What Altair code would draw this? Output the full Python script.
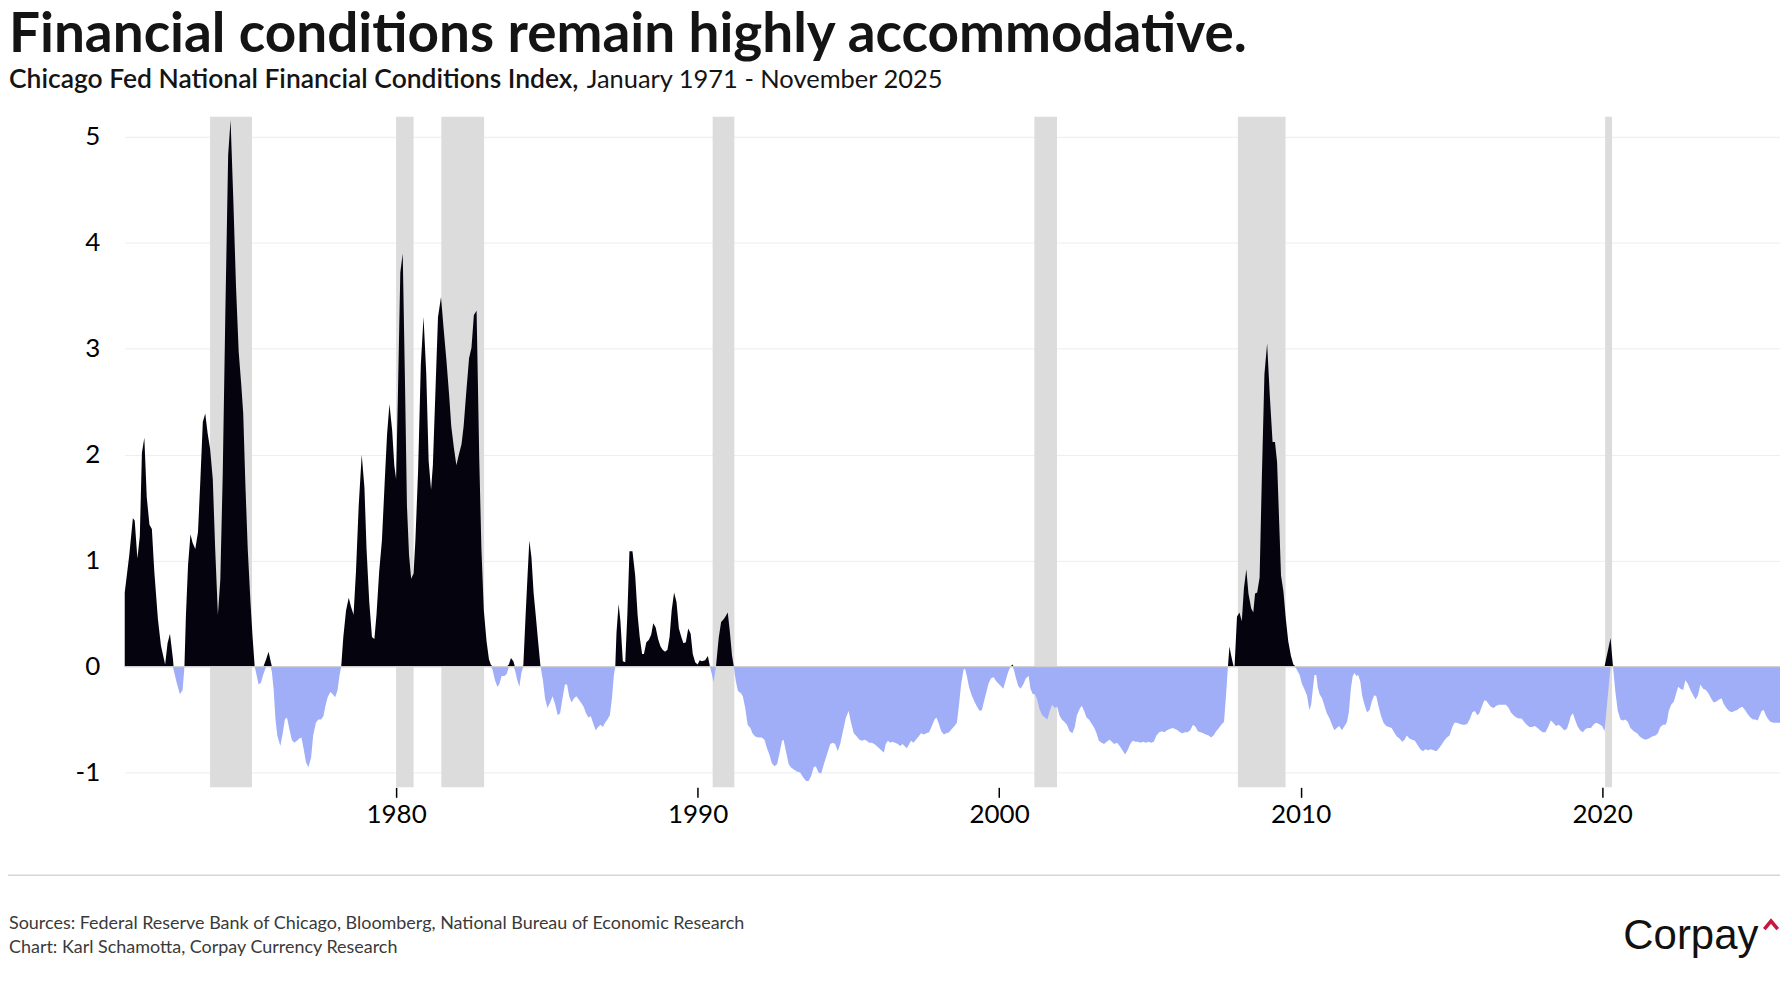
import altair as alt
import pandas as pd

TITLE = "Financial conditions remain highly accommodative."
SUB_BOLD = "Chicago Fed National Financial Conditions Index,"
SUB_REG = "January 1971 - November 2025"
SOURCE = "Sources: Federal Reserve Bank of Chicago, Bloomberg, National Bureau of Economic Research"
CREDIT = "Chart: Karl Schamotta, Corpay Currency Research"
BRAND = "Corpay"

# NBER recessions (decimal years)
recession_start = [1973.83, 1980.00, 1981.50, 1990.50, 2001.17, 2007.92, 2020.10]
recession_end = [1975.22, 1980.58, 1982.92, 1991.22, 2001.92, 2009.50, 2020.33]

x_ticks = [1980, 1990, 2000, 2010, 2020]
y_ticks = [-1, 0, 1, 2, 3, 4, 5]

# NFCI readings (decimal year, index value)
nfci_1970s = [
    (1971.00, 0.70), (1971.15, 1.05), (1971.27, 1.40), (1971.33, 1.38), (1971.42, 1.02),
    (1971.50, 1.23), (1971.57, 2.02), (1971.65, 2.16), (1971.73, 1.60), (1971.82, 1.34),
    (1971.90, 1.30), (1971.98, 0.90), (1972.10, 0.45), (1972.20, 0.20), (1972.34, 0.02),
    (1972.42, 0.22), (1972.50, 0.31), (1972.60, 0.07), (1972.62, -0.03), (1972.72, -0.15),
    (1972.83, -0.26), (1972.92, -0.22), (1972.98, 0.00), (1973.03, 0.49), (1973.10, 0.96),
    (1973.18, 1.25), (1973.25, 1.17), (1973.34, 1.11), (1973.43, 1.27), (1973.51, 1.77),
    (1973.59, 2.31), (1973.67, 2.39), (1973.75, 2.20), (1973.83, 2.06), (1973.92, 1.77),
    (1974.00, 1.11), (1974.09, 0.49), (1974.17, 0.82), (1974.25, 1.81), (1974.34, 3.39),
    (1974.43, 4.83), (1974.51, 5.16), (1974.60, 4.42), (1974.69, 3.59), (1974.78, 2.97),
    (1974.86, 2.68), (1974.93, 2.39), (1975.00, 1.73), (1975.08, 1.11), (1975.17, 0.61),
    (1975.24, 0.28), (1975.31, 0.00), (1975.38, -0.09), (1975.44, -0.17), (1975.52, -0.15),
    (1975.60, -0.07), (1975.69, 0.07), (1975.77, 0.14), (1975.84, 0.05), (1975.88, -0.05),
    (1975.94, -0.22), (1976.00, -0.50), (1976.06, -0.65), (1976.16, -0.75), (1976.24, -0.63),
    (1976.31, -0.50), (1976.38, -0.48), (1976.46, -0.59), (1976.54, -0.69), (1976.62, -0.72),
    (1976.71, -0.70), (1976.79, -0.68), (1976.86, -0.67), (1976.93, -0.77), (1977.01, -0.90),
    (1977.09, -0.95), (1977.18, -0.86), (1977.25, -0.65), (1977.34, -0.53), (1977.42, -0.50),
    (1977.51, -0.50), (1977.59, -0.47), (1977.65, -0.38), (1977.73, -0.29), (1977.82, -0.24),
    (1977.90, -0.26), (1977.98, -0.29), (1978.06, -0.22), (1978.12, -0.09), (1978.18, 0.00),
    (1978.25, 0.28), (1978.34, 0.53), (1978.43, 0.65), (1978.50, 0.57), (1978.59, 0.49),
    (1978.67, 0.90), (1978.76, 1.52), (1978.86, 2.00), (1978.95, 1.69), (1979.02, 1.11),
    (1979.11, 0.61), (1979.20, 0.28), (1979.28, 0.26), (1979.35, 0.49), (1979.44, 0.90),
    (1979.53, 1.19), (1979.62, 1.73), (1979.70, 2.19), (1979.78, 2.48), (1979.87, 2.23),
    (1979.94, 1.90),
]

nfci_1980s = [
    (1980.00, 1.77), (1980.06, 2.56), (1980.14, 3.72), (1980.22, 3.90), (1980.29, 2.77),
    (1980.36, 1.52), (1980.43, 1.05), (1980.50, 0.83), (1980.58, 0.88), (1980.64, 1.19),
    (1980.73, 1.85), (1980.82, 2.85), (1980.91, 3.30), (1981.00, 2.77), (1981.08, 1.94),
    (1981.16, 1.67), (1981.22, 1.90), (1981.30, 2.56), (1981.39, 3.30), (1981.49, 3.49),
    (1981.58, 3.18), (1981.67, 2.89), (1981.76, 2.56), (1981.83, 2.27), (1981.92, 2.06),
    (1982.00, 1.90), (1982.08, 2.00), (1982.17, 2.10), (1982.24, 2.27), (1982.33, 2.60),
    (1982.42, 2.91), (1982.50, 3.01), (1982.58, 3.32), (1982.67, 3.36), (1982.76, 1.94),
    (1982.83, 1.11), (1982.91, 0.53), (1983.00, 0.24), (1983.08, 0.07), (1983.14, 0.02),
    (1983.20, -0.03), (1983.28, -0.13), (1983.36, -0.19), (1983.42, -0.17), (1983.50, -0.09),
    (1983.59, -0.09), (1983.67, -0.07), (1983.74, 0.02), (1983.81, 0.08), (1983.89, 0.05),
    (1983.94, -0.03), (1984.02, -0.13), (1984.09, -0.19), (1984.16, -0.05), (1984.22, 0.01),
    (1984.29, 0.45), (1984.36, 0.86), (1984.42, 1.19), (1984.49, 1.03), (1984.56, 0.70),
    (1984.63, 0.49), (1984.71, 0.24), (1984.79, 0.00), (1984.87, -0.13), (1984.94, -0.30),
    (1985.02, -0.39), (1985.11, -0.34), (1985.19, -0.28), (1985.28, -0.36), (1985.36, -0.46),
    (1985.44, -0.44), (1985.52, -0.30), (1985.60, -0.17), (1985.67, -0.17), (1985.74, -0.28),
    (1985.82, -0.34), (1985.90, -0.30), (1985.98, -0.28), (1986.06, -0.31), (1986.13, -0.34),
    (1986.22, -0.38), (1986.30, -0.44), (1986.38, -0.48), (1986.46, -0.47), (1986.53, -0.53),
    (1986.62, -0.60), (1986.70, -0.57), (1986.78, -0.55), (1986.86, -0.57), (1986.93, -0.53),
    (1987.01, -0.50), (1987.09, -0.46), (1987.16, -0.30), (1987.22, -0.09), (1987.27, 0.00),
    (1987.31, 0.32), (1987.38, 0.59), (1987.44, 0.43), (1987.52, 0.05), (1987.60, 0.04),
    (1987.67, 0.49), (1987.74, 1.09), (1987.84, 1.09), (1987.93, 0.86), (1988.01, 0.49),
    (1988.08, 0.28), (1988.16, 0.12), (1988.22, 0.12), (1988.30, 0.23), (1988.38, 0.25),
    (1988.46, 0.30), (1988.53, 0.41), (1988.61, 0.37), (1988.69, 0.26), (1988.77, 0.19),
    (1988.84, 0.16), (1988.92, 0.14), (1989.00, 0.16), (1989.07, 0.28), (1989.14, 0.53),
    (1989.22, 0.70), (1989.30, 0.61), (1989.38, 0.36), (1989.46, 0.28), (1989.53, 0.22),
    (1989.61, 0.23), (1989.69, 0.36), (1989.77, 0.31), (1989.84, 0.12), (1989.92, 0.04),
]

nfci_1990s = [
    (1990.00, 0.02), (1990.07, 0.06), (1990.14, 0.05), (1990.25, 0.06), (1990.34, 0.10),
    (1990.41, 0.00), (1990.48, -0.08), (1990.53, -0.15), (1990.61, 0.00), (1990.70, 0.27),
    (1990.78, 0.42), (1990.87, 0.45), (1990.94, 0.48), (1991.00, 0.51), (1991.07, 0.33),
    (1991.14, 0.11), (1991.20, 0.00), (1991.27, -0.14), (1991.34, -0.23), (1991.43, -0.25),
    (1991.50, -0.28), (1991.58, -0.39), (1991.66, -0.55), (1991.75, -0.58), (1991.82, -0.63),
    (1991.91, -0.66), (1992.02, -0.67), (1992.13, -0.67), (1992.22, -0.69), (1992.30, -0.77),
    (1992.38, -0.83), (1992.46, -0.91), (1992.55, -0.94), (1992.64, -0.92), (1992.72, -0.81),
    (1992.80, -0.70), (1992.85, -0.69), (1992.93, -0.80), (1993.02, -0.92), (1993.09, -0.95),
    (1993.18, -0.97), (1993.29, -0.99), (1993.40, -1.00), (1993.51, -1.05), (1993.60, -1.08),
    (1993.68, -1.08), (1993.77, -1.03), (1993.85, -0.95), (1993.92, -0.94), (1994.01, -1.00),
    (1994.10, -1.01), (1994.19, -0.92), (1994.29, -0.83), (1994.40, -0.73), (1994.49, -0.72),
    (1994.56, -0.73), (1994.65, -0.80), (1994.73, -0.73), (1994.82, -0.61), (1994.92, -0.48),
    (1995.01, -0.42), (1995.09, -0.53), (1995.18, -0.63), (1995.28, -0.66), (1995.37, -0.69),
    (1995.45, -0.70), (1995.54, -0.69), (1995.61, -0.70), (1995.69, -0.72), (1995.78, -0.72),
    (1995.86, -0.73), (1995.94, -0.75), (1996.02, -0.77), (1996.09, -0.79), (1996.18, -0.81),
    (1996.24, -0.73), (1996.31, -0.70), (1996.39, -0.72), (1996.46, -0.71), (1996.55, -0.72),
    (1996.64, -0.73), (1996.72, -0.75), (1996.80, -0.73), (1996.86, -0.75), (1996.94, -0.77),
    (1997.02, -0.73), (1997.08, -0.70), (1997.16, -0.72), (1997.24, -0.69), (1997.33, -0.66),
    (1997.41, -0.63), (1997.50, -0.64), (1997.59, -0.63), (1997.68, -0.62), (1997.77, -0.56),
    (1997.86, -0.50), (1997.92, -0.48), (1997.99, -0.53), (1998.08, -0.61), (1998.17, -0.64),
    (1998.25, -0.63), (1998.34, -0.62), (1998.43, -0.59), (1998.52, -0.56), (1998.60, -0.53),
    (1998.67, -0.36), (1998.74, -0.17), (1998.82, -0.03), (1998.87, -0.02), (1998.93, -0.09),
    (1999.00, -0.19), (1999.09, -0.27), (1999.18, -0.33), (1999.27, -0.38), (1999.36, -0.42),
    (1999.43, -0.41), (1999.49, -0.34), (1999.57, -0.25), (1999.65, -0.16), (1999.73, -0.11),
    (1999.82, -0.10), (1999.91, -0.14),
]

nfci_2000s = [
    (2000.05, -0.18), (2000.14, -0.21), (2000.22, -0.13), (2000.30, -0.05), (2000.38, 0.00),
    (2000.44, 0.02), (2000.49, -0.03), (2000.56, -0.11), (2000.63, -0.18), (2000.71, -0.21),
    (2000.80, -0.17), (2000.89, -0.11), (2000.98, -0.09), (2001.04, -0.21), (2001.12, -0.26),
    (2001.19, -0.26), (2001.26, -0.31), (2001.34, -0.40), (2001.43, -0.46), (2001.52, -0.48),
    (2001.60, -0.50), (2001.68, -0.42), (2001.76, -0.36), (2001.84, -0.39), (2001.93, -0.38),
    (2002.00, -0.46), (2002.08, -0.50), (2002.16, -0.52), (2002.25, -0.55), (2002.34, -0.61),
    (2002.43, -0.63), (2002.51, -0.57), (2002.58, -0.46), (2002.67, -0.40), (2002.74, -0.37),
    (2002.82, -0.42), (2002.90, -0.48), (2002.98, -0.50), (2003.07, -0.54), (2003.16, -0.58),
    (2003.23, -0.63), (2003.31, -0.70), (2003.40, -0.72), (2003.48, -0.73), (2003.57, -0.71),
    (2003.66, -0.69), (2003.74, -0.71), (2003.82, -0.73), (2003.91, -0.72), (2004.00, -0.75),
    (2004.09, -0.79), (2004.18, -0.83), (2004.26, -0.79), (2004.35, -0.73), (2004.43, -0.70),
    (2004.52, -0.71), (2004.60, -0.71), (2004.69, -0.72), (2004.78, -0.71), (2004.87, -0.72),
    (2004.96, -0.71), (2005.04, -0.72), (2005.13, -0.71), (2005.22, -0.65), (2005.31, -0.62),
    (2005.40, -0.61), (2005.48, -0.62), (2005.57, -0.60), (2005.66, -0.59), (2005.75, -0.58),
    (2005.84, -0.59), (2005.92, -0.60), (2006.00, -0.62), (2006.08, -0.63), (2006.16, -0.62),
    (2006.25, -0.62), (2006.34, -0.60), (2006.43, -0.55), (2006.52, -0.57), (2006.59, -0.61),
    (2006.68, -0.62), (2006.77, -0.63), (2006.86, -0.64), (2006.95, -0.65), (2007.03, -0.67),
    (2007.11, -0.65), (2007.20, -0.61), (2007.29, -0.58), (2007.37, -0.55), (2007.46, -0.52),
    (2007.53, -0.26), (2007.59, 0.00), (2007.64, 0.19), (2007.70, 0.10), (2007.77, 0.01),
    (2007.81, 0.00), (2007.89, 0.47), (2007.97, 0.51), (2008.05, 0.43), (2008.12, 0.74),
    (2008.20, 0.92), (2008.27, 0.69), (2008.36, 0.55), (2008.43, 0.51), (2008.49, 0.69),
    (2008.56, 0.70), (2008.64, 0.84), (2008.71, 1.73), (2008.80, 2.76), (2008.89, 3.05),
    (2008.98, 2.55), (2009.07, 2.12), (2009.15, 2.12), (2009.22, 1.93), (2009.29, 1.36),
    (2009.35, 0.86), (2009.43, 0.71), (2009.51, 0.45), (2009.59, 0.24), (2009.68, 0.10),
    (2009.76, 0.02), (2009.84, -0.01),
]

nfci_2010s = [
    (2009.97, -0.08), (2010.04, -0.16), (2010.12, -0.21), (2010.21, -0.27), (2010.29, -0.41),
    (2010.35, -0.36), (2010.41, -0.20), (2010.46, -0.08), (2010.52, -0.08), (2010.57, -0.20),
    (2010.63, -0.26), (2010.71, -0.30), (2010.78, -0.36), (2010.87, -0.44), (2010.96, -0.49),
    (2011.04, -0.55), (2011.12, -0.60), (2011.20, -0.58), (2011.28, -0.56), (2011.37, -0.60),
    (2011.46, -0.56), (2011.54, -0.52), (2011.60, -0.43), (2011.67, -0.20), (2011.73, -0.09),
    (2011.79, -0.06), (2011.85, -0.09), (2011.91, -0.08), (2011.98, -0.14), (2012.04, -0.27),
    (2012.11, -0.35), (2012.20, -0.43), (2012.29, -0.41), (2012.36, -0.33), (2012.44, -0.27),
    (2012.51, -0.28), (2012.59, -0.38), (2012.66, -0.46), (2012.75, -0.53), (2012.84, -0.56),
    (2012.93, -0.57), (2013.02, -0.58), (2013.10, -0.62), (2013.19, -0.66), (2013.28, -0.68),
    (2013.37, -0.71), (2013.45, -0.69), (2013.52, -0.65), (2013.61, -0.68), (2013.70, -0.69),
    (2013.79, -0.70), (2013.88, -0.74), (2013.97, -0.78), (2014.06, -0.80), (2014.14, -0.78),
    (2014.23, -0.79), (2014.32, -0.78), (2014.41, -0.79), (2014.50, -0.80), (2014.59, -0.77),
    (2014.67, -0.74), (2014.76, -0.70), (2014.85, -0.67), (2014.94, -0.65), (2015.02, -0.58),
    (2015.10, -0.53), (2015.18, -0.53), (2015.27, -0.54), (2015.36, -0.55), (2015.45, -0.55),
    (2015.53, -0.54), (2015.62, -0.49), (2015.70, -0.43), (2015.78, -0.42), (2015.86, -0.46),
    (2015.93, -0.44), (2016.01, -0.38), (2016.09, -0.32), (2016.15, -0.32), (2016.23, -0.35),
    (2016.31, -0.38), (2016.40, -0.39), (2016.49, -0.37), (2016.57, -0.36), (2016.66, -0.36),
    (2016.75, -0.36), (2016.81, -0.36), (2016.90, -0.39), (2016.97, -0.43), (2017.06, -0.46),
    (2017.15, -0.48), (2017.24, -0.49), (2017.33, -0.49), (2017.41, -0.52), (2017.50, -0.55),
    (2017.59, -0.57), (2017.68, -0.57), (2017.77, -0.56), (2017.86, -0.58), (2017.94, -0.60),
    (2018.03, -0.62), (2018.12, -0.62), (2018.21, -0.57), (2018.30, -0.51), (2018.38, -0.53),
    (2018.47, -0.56), (2018.56, -0.55), (2018.65, -0.57), (2018.74, -0.60), (2018.83, -0.59),
    (2018.90, -0.53), (2018.96, -0.47), (2019.03, -0.44), (2019.10, -0.50), (2019.18, -0.56),
    (2019.27, -0.60), (2019.36, -0.62), (2019.45, -0.59), (2019.54, -0.58), (2019.63, -0.58),
    (2019.71, -0.55), (2019.80, -0.53), (2019.88, -0.54),
]

nfci_2020s = [
    (2020.00, -0.56), (2020.08, -0.61), (2020.28, 0.27), (2020.36, 0.00), (2020.44, -0.24),
    (2020.52, -0.42), (2020.61, -0.50), (2020.70, -0.51), (2020.77, -0.50), (2020.85, -0.52),
    (2020.94, -0.58), (2021.05, -0.61), (2021.16, -0.63), (2021.25, -0.66), (2021.34, -0.68),
    (2021.44, -0.69), (2021.55, -0.68), (2021.66, -0.66), (2021.77, -0.65), (2021.85, -0.63),
    (2021.93, -0.57), (2022.02, -0.55), (2022.10, -0.55), (2022.15, -0.52), (2022.21, -0.42),
    (2022.29, -0.36), (2022.38, -0.33), (2022.44, -0.27), (2022.52, -0.19), (2022.60, -0.21),
    (2022.69, -0.22), (2022.76, -0.13), (2022.84, -0.16), (2022.93, -0.22), (2023.02, -0.27),
    (2023.10, -0.31), (2023.18, -0.27), (2023.26, -0.17), (2023.35, -0.21), (2023.44, -0.22),
    (2023.52, -0.25), (2023.61, -0.30), (2023.70, -0.34), (2023.79, -0.33), (2023.88, -0.31),
    (2023.96, -0.30), (2024.03, -0.35), (2024.12, -0.39), (2024.21, -0.42), (2024.30, -0.43),
    (2024.39, -0.42), (2024.48, -0.41), (2024.56, -0.39), (2024.65, -0.38), (2024.74, -0.41),
    (2024.83, -0.45), (2024.92, -0.48), (2025.01, -0.50), (2025.09, -0.50), (2025.16, -0.51),
    (2025.23, -0.46), (2025.29, -0.42), (2025.36, -0.41), (2025.43, -0.46), (2025.49, -0.49),
    (2025.58, -0.52), (2025.69, -0.53), (2025.80, -0.53), (2025.90, -0.53),
]

# ---- build tables ----
rows = nfci_1970s + nfci_1980s + nfci_1990s + nfci_2000s + nfci_2010s + nfci_2020s
df = pd.DataFrame(rows, columns=["d", "v"])
df["pos"] = df["v"].clip(lower=0)
df["neg"] = df["v"].clip(upper=0)
bands = pd.DataFrame({"s": recession_start, "e": recession_end})

W, H = 1659, 672
FONT = "Lato"

xscale = alt.Scale(domain=[1971.0, 2025.9], nice=False, zero=False)
yscale = alt.Scale(domain=[-1.14, 5.19], nice=False, zero=False)
xaxis = alt.Axis(values=x_ticks, format="d", title=None, grid=False, domain=False,
                 ticks=True, tickSize=10, tickWidth=1.5, tickColor="#000000",
                 labelPadding=4, labelFontSize=26, labelFont=FONT, labelColor="#000000")
yaxis = alt.Axis(values=y_ticks, labelExpr="toString(datum.value)", title=None,
                 grid=True, gridColor="#ededed", gridWidth=1, domain=False, ticks=False,
                 labelPadding=25, labelFontSize=26, labelFont=FONT, labelColor="#000000")

band_layer = alt.Chart(bands).mark_rect(color="#dcdcdc").encode(
    x=alt.X("s:Q", scale=xscale, axis=xaxis),
    x2="e:Q",
    y=alt.value(0),
    y2=alt.value(H),
)

pos_layer = alt.Chart(df).mark_area(color="#05040e", interpolate="linear").encode(
    x=alt.X("d:Q", scale=xscale, axis=xaxis),
    y=alt.Y("pos:Q", scale=yscale, axis=yaxis, stack=None),
)

neg_layer = alt.Chart(df).mark_area(color="#a0aef8", interpolate="linear").encode(
    x=alt.X("d:Q", scale=xscale, axis=xaxis),
    y=alt.Y("neg:Q", scale=yscale, axis=yaxis, stack=None),
)

zero_layer = alt.Chart(pd.DataFrame({"z": [0]})).mark_rule(color="#cfcfcf", strokeWidth=1.2).encode(
    y=alt.Y("z:Q", scale=yscale, axis=yaxis),
)


def text_layer(txt, x, y, size, weight="normal", color="#111111", font=FONT):
    return alt.Chart(pd.DataFrame({"t": [txt]})).mark_text(
        align="left", baseline="alphabetic", font=font, fontSize=size,
        fontWeight=weight, color=color,
    ).encode(text="t:N", x=alt.value(x), y=alt.value(y))


title_layer = text_layer(TITLE, -116, -65, 55, "bold", "#141414")
sub1_layer = text_layer(SUB_BOLD, -116, -29, 26.5, 600, "#141414")
sub2_layer = text_layer(SUB_REG, 463, -29, 25.5, "normal", "#141414")
source_layer = text_layer(SOURCE, -116, 814, 18, "normal", "#3a3a3a")
credit_layer = text_layer(CREDIT, -116, 838, 18, "normal", "#3a3a3a")
brand_layer = text_layer(BRAND, 1502, 834, 42, "normal", "#111111", "Liberation Sans")

caret_layer = alt.Chart(pd.DataFrame({"c": [0]})).mark_point(
    shape="M -1 0.6 L 0 -0.6 L 1 0.6", filled=False, color="#c8163f",
    strokeWidth=3.5, size=180, opacity=1,
).encode(x=alt.value(1650), y=alt.value(810))

sep_layer = alt.Chart(pd.DataFrame({"a": [0]})).mark_rule(color="#d6d6d6", strokeWidth=1.5).encode(
    x=alt.value(-117), x2=alt.value(1662), y=alt.value(760),
)

chart = alt.layer(
    band_layer, pos_layer, neg_layer, zero_layer,
    title_layer, sub1_layer, sub2_layer, source_layer, credit_layer,
    brand_layer, caret_layer, sep_layer,
).properties(
    width=W, height=H,
    background="#ffffff",
    autosize=alt.AutoSizeParams(type="none"),
    padding={"left": 117, "top": 108, "right": 0, "bottom": 196},
).configure_view(stroke=None)

chart.save("out.html", embed_options={"renderer": "svg", "actions": False})
